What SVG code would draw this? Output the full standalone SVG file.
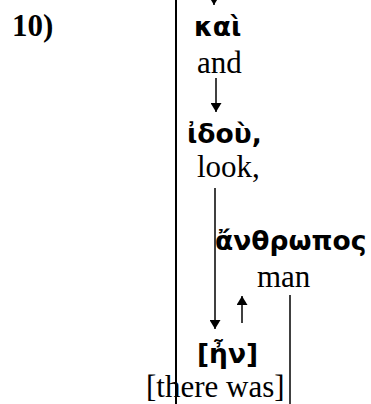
<svg xmlns="http://www.w3.org/2000/svg" width="371" height="404" viewBox="0 0 371 404">
<style>
.en{font-family:"Liberation Serif","Times New Roman",serif;font-size:31px;fill:#000}
.gr{font-family:"DejaVu Sans","Noto Sans",sans-serif;font-weight:bold;font-size:26.5px;fill:#000}
.num{font-family:"Liberation Serif","Times New Roman",serif;font-weight:bold;font-size:31px;fill:#000}
.ln{stroke:#000;stroke-width:2;fill:none}
.th{stroke:#000;stroke-width:1.5;fill:none}
</style>
<defs>
<marker id="ah" markerWidth="9" markerHeight="11" refX="9" refY="5.5" orient="auto" markerUnits="userSpaceOnUse">
<path d="M0,0 L9,5.5 L0,11 Z" fill="#000"/>
</marker>
</defs>
<rect width="371" height="404" fill="#fff"/>
<g id="label"><text class="num" x="12" y="36">10)</text></g>
<g id="connectors">
<line class="ln" x1="176" y1="0" x2="176" y2="404"/>
<line class="th" x1="214" y1="-10" x2="214" y2="5" marker-end="url(#ah)"/>
<line class="th" x1="216" y1="78" x2="216" y2="112" marker-end="url(#ah)"/>
<line class="th" x1="215" y1="188" x2="215" y2="329" marker-end="url(#ah)"/>
<line class="th" x1="242" y1="323" x2="242" y2="296" marker-end="url(#ah)"/>
<line class="th" x1="290" y1="295" x2="290" y2="404"/>
</g>
<g id="kai">
<text class="gr" x="194" y="36">καὶ</text>
<text class="en" x="197" y="73">and</text>
</g>
<g id="idou">
<text class="gr" x="187" y="143">ἰδοὺ,</text>
<text class="en" x="197" y="177">look,</text>
</g>
<g id="anthropos">
<text class="gr" x="215" y="250">ἄνθρωπος</text>
<text class="en" x="257" y="287">man</text>
</g>
<g id="en">
<text class="gr" x="197" y="363">[ἦν]</text>
<text class="en" x="146" y="397">[there was]</text>
</g>
</svg>
